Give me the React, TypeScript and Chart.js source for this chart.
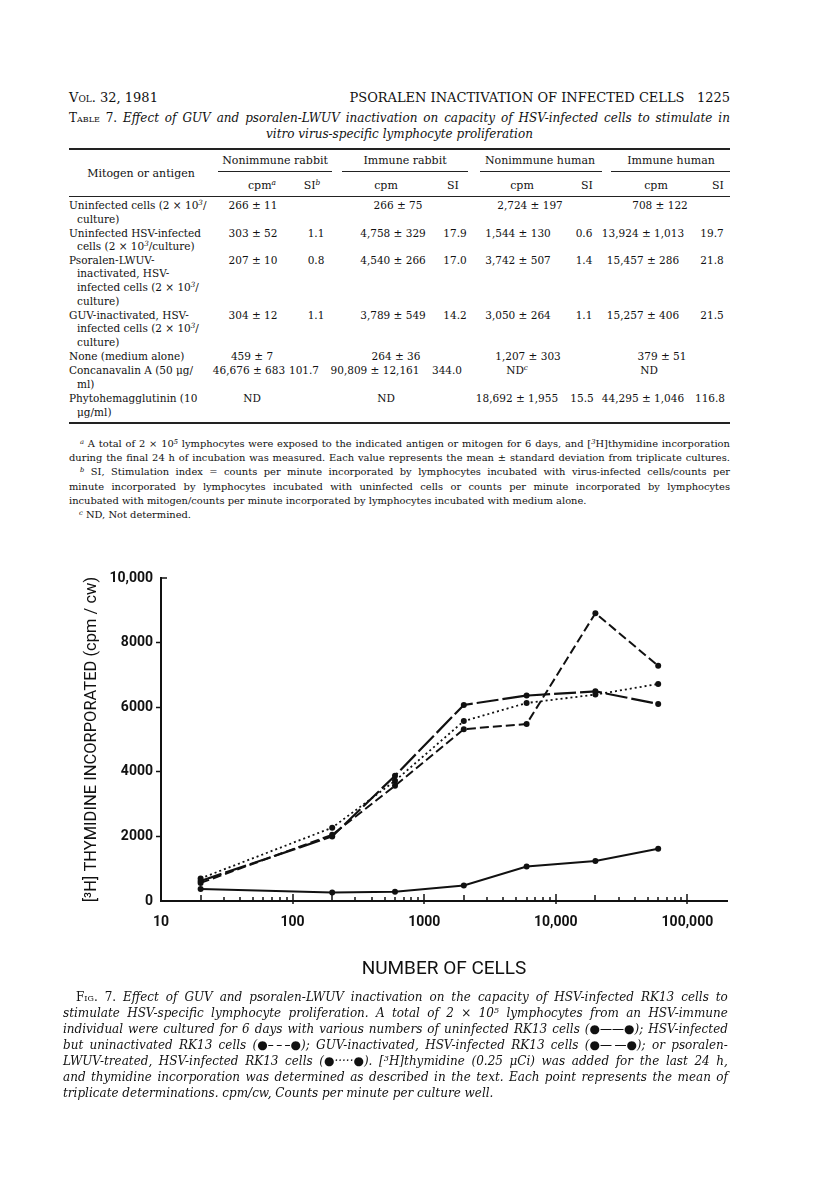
import React, { useEffect, useRef } from 'react';
import { Chart, registerables } from 'chart.js';

Chart.register(...registerables);

// ---------- chart data ----------
const CELL_COUNTS = [20, 200, 600, 2000, 6000, 20000, 60000];
const UNINFECTED = [370, 260, 290, 480, 1070, 1240, 1620];
const HSV_UNINACTIVATED = [560, 2050, 3570, 5320, 5480, 8910, 7280];
const GUV_INACTIVATED = [620, 2000, 3880, 6070, 6360, 6490, 6100];
const PSORALEN_LWUV = [700, 2270, 3720, 5570, 6130, 6390, 6720];

const X_TICKS = [
  10, 20, 30, 40, 50, 60, 70, 80, 90,
  100, 200, 300, 400, 500, 600, 700, 800, 900,
  1000, 2000, 3000, 4000, 5000, 6000, 7000, 8000, 9000,
  10000, 20000, 30000, 40000, 50000, 60000, 70000, 80000, 90000,
  100000,
];
const X_TICK_LABELS: Record<number, string> = {
  10: '10', 100: '100', 1000: '1000', 10000: '10,000', 100000: '100,000',
};
const Y_TICKS = [0, 2000, 4000, 6000, 8000, 10000];
const Y_TICK_LABELS = ['0', '2000', '4000', '6000', '8000', '10,000'];

const X_TITLE = 'NUMBER OF CELLS';
const Y_TITLE = '[\u00b3H] THYMIDINE INCORPORATED (cpm / cw)';

// ---------- page text ----------
const INK = '#111';

function rich(s: string) {
  const parts = s.split(/(\^\{[^}]*\}|\[\[[^\]]*\]\])/);
  return parts.map((p, i) => {
    if (p.startsWith('^{')) {
      return (
        <sup key={i} style={{ fontSize: '0.68em', lineHeight: 0, verticalAlign: '0.5em', fontStyle: 'italic' }}>
          {p.slice(2, -1)}
        </sup>
      );
    }
    if (p.startsWith('[[')) {
      return (
        <span key={i} style={{ fontVariant: 'small-caps', fontStyle: 'normal' }}>
          {p.slice(2, -2)}
        </span>
      );
    }
    return <React.Fragment key={i}>{p}</React.Fragment>;
  });
}

function JLine(props: any) {
  const { y, left, right, text, lh = 14, style = {}, last = false, align } = props;
  const base: any = {
    position: 'absolute',
    top: y - lh / 2,
    lineHeight: lh + 'px',
    whiteSpace: 'nowrap',
    color: INK,
    ...style,
  };
  if (align === 'center') {
    return (
      <div style={{ ...base, left, width: right - left, textAlign: 'center' }}>{rich(text)}</div>
    );
  }
  if (last) {
    return <div style={{ ...base, left }}>{rich(text)}</div>;
  }
  const words = text.split(' ');
  return (
    <div style={{ ...base, left, width: right - left, display: 'flex', justifyContent: 'space-between' }}>
      {words.map((w: string, i: number) => (
        <span key={i}>{rich(w)}</span>
      ))}
    </div>
  );
}

function Cell(props: any) {
  const { x, y, text, style = {} } = props;
  return (
    <div
      style={{
        position: 'absolute',
        left: x,
        top: y - 7,
        lineHeight: '14px',
        transform: 'translateX(-50%)',
        whiteSpace: 'nowrap',
        color: INK,
        ...style,
      }}
    >
      {rich(text)}
    </div>
  );
}

function Rule(props: any) {
  const { y, x1, x2, w = 1 } = props;
  return <div style={{ position: 'absolute', left: x1, top: y - w / 2, width: x2 - x1, height: w, background: '#222' }} />;
}

const TABLE_ROWS = [
  {
    lines: ['Uninfected cells (2 \u00d7 10^{3}/', 'culture)'],
    ys: [205, 219],
    cells: [['266 \u00b1 11', 253], ['266 \u00b1 75', 398], ['2,724 \u00b1 197', 530], ['708 \u00b1 122', 660]],
  },
  {
    lines: ['Uninfected HSV-infected', 'cells (2 \u00d7 10^{3}/culture)'],
    ys: [233, 246],
    cells: [['303 \u00b1 52', 253], ['1.1', 316], ['4,758 \u00b1 329', 393], ['17.9', 455], ['1,544 \u00b1 130', 518], ['0.6', 584], ['13,924 \u00b1 1,013', 643], ['19.7', 712]],
  },
  {
    lines: ['Psoralen-LWUV-', 'inactivated, HSV-', 'infected cells (2 \u00d7 10^{3}/', 'culture)'],
    ys: [260, 273, 287, 301],
    cells: [['207 \u00b1 10', 253], ['0.8', 316], ['4,540 \u00b1 266', 393], ['17.0', 455], ['3,742 \u00b1 507', 518], ['1.4', 584], ['15,457 \u00b1 286', 643], ['21.8', 712]],
  },
  {
    lines: ['GUV-inactivated, HSV-', 'infected cells (2 \u00d7 10^{3}/', 'culture)'],
    ys: [315, 328, 342],
    cells: [['304 \u00b1 12', 253], ['1.1', 316], ['3,789 \u00b1 549', 393], ['14.2', 455], ['3,050 \u00b1 264', 518], ['1.1', 584], ['15,257 \u00b1 406', 643], ['21.5', 712]],
  },
  {
    lines: ['None (medium alone)'],
    ys: [356],
    cells: [['459 \u00b1 7', 252], ['264 \u00b1 36', 396], ['1,207 \u00b1 303', 528], ['379 \u00b1 51', 662]],
  },
  {
    lines: ['Concanavalin A (50 \u03bcg/', 'ml)'],
    ys: [370, 384],
    cells: [['46,676 \u00b1 683', 249], ['101.7', 304], ['90,809 \u00b1 12,161', 375], ['344.0', 447], ['ND^{c}', 517], ['ND', 649]],
  },
  {
    lines: ['Phytohemagglutinin (10', '\u03bcg/ml)'],
    ys: [398, 412],
    cells: [['ND', 252], ['ND', 386], ['18,692 \u00b1 1,955', 517], ['15.5', 582], ['44,295 \u00b1 1,046', 643], ['116.8', 710]],
  },
];

const GROUPS = [
  ['Nonimmune rabbit', 275, 218, 332],
  ['Immune rabbit', 405, 342, 468],
  ['Nonimmune human', 540, 480, 602],
  ['Immune human', 671, 611, 730],
];
const SUBHEADS = [['cpm^{a}', 262], ['SI^{b}', 312], ['cpm', 386], ['SI', 453], ['cpm', 522], ['SI', 587], ['cpm', 656], ['SI', 718]];

const FOOTNOTES = [
  { y: 444, left: 80, text: '^{a} A total of 2 \u00d7 10^{5} lymphocytes were exposed to the indicated antigen or mitogen for 6 days, and [^{3}H]thymidine incorporation' },
  { y: 458, left: 69, text: 'during the final 24 h of incubation was measured. Each value represents the mean \u00b1 standard deviation from triplicate cultures.' },
  { y: 472, left: 80, text: '^{b} SI, Stimulation index = counts per minute incorporated by lymphocytes incubated with virus-infected cells/counts per' },
  { y: 487, left: 69, text: 'minute incorporated by lymphocytes incubated with uninfected cells or counts per minute incorporated by lymphocytes' },
  { y: 501, left: 69, text: 'incubated with mitogen/counts per minute incorporated by lymphocytes incubated with medium alone.', last: true },
  { y: 515, left: 79, text: '^{c} ND, Not determined.', last: true },
];

const CAPTION = [
  { y: 997, left: 76, text: '[[Fig.]] [[7.]] Effect of GUV and psoralen-LWUV inactivation on the capacity of HSV-infected RK13 cells to' },
  { y: 1013, left: 63, text: 'stimulate HSV-specific lymphocyte proliferation. A total of 2 \u00d7 10^{5} lymphocytes from an HSV-immune' },
  { y: 1029, left: 63, text: 'individual were cultured for 6 days with various numbers of uninfected RK13 cells (\u25cf\u2014\u2014\u25cf); HSV-infected' },
  { y: 1045, left: 63, text: 'but uninactivated RK13 cells (\u25cf\u2013\u2009\u2013\u2009\u2013\u25cf); GUV-inactivated, HSV-infected RK13 cells (\u25cf\u2014\u2009\u2014\u25cf); or psoralen-' },
  { y: 1061, left: 63, text: 'LWUV-treated, HSV-infected RK13 cells (\u25cf\u00b7\u00b7\u00b7\u00b7\u00b7\u25cf). [^{3}H]thymidine (0.25 \u03bcCi) was added for the last 24 h,' },
  { y: 1077, left: 63, text: 'and thymidine incorporation was determined as described in the text. Each point represents the mean of' },
  { y: 1093, left: 63, text: 'triplicate determinations. cpm/cw, Counts per minute per culture well.', last: true },
];

// ---------- chart ----------
const pts = (vals: number[]) => CELL_COUNTS.map((c, i) => ({ x: c, y: vals[i] }));

const insideTicks = {
  id: 'insideTicks',
  afterDraw(chart: any) {
    const xs = chart.scales.x;
    const ys = chart.scales.y;
    const ctx = chart.ctx;
    const base = chart.chartArea.bottom;
    ctx.save();
    ctx.strokeStyle = INK;
    ctx.lineWidth = 1.5;
    xs.ticks.forEach((t: any) => {
      const v = t.value;
      if (v <= xs.min) return;
      const exp = Math.floor(Math.log10(v) + 1e-9);
      const lead = Math.round(v / Math.pow(10, exp));
      let up = 4;
      let down = 0;
      if (lead === 1) {
        up = 7;
        down = 3;
      } else if (lead === 2) {
        up = 6;
      }
      const px = Math.round(xs.getPixelForValue(v));
      ctx.beginPath();
      ctx.moveTo(px, base - up);
      ctx.lineTo(px, base + down);
      ctx.stroke();
    });
    const ty = Math.round(ys.getPixelForValue(ys.max));
    ctx.beginPath();
    ctx.moveTo(chart.chartArea.left, ty);
    ctx.lineTo(chart.chartArea.left + 6, ty);
    ctx.stroke();
    ctx.restore();
  },
};

function Figure() {
  const ref = useRef<HTMLCanvasElement | null>(null);
  useEffect(() => {
    if (!ref.current) return;
    const common = { borderColor: INK, backgroundColor: INK, pointRadius: 3, pointBackgroundColor: INK, pointBorderWidth: 0, tension: 0, fill: false };
    const chart = new Chart(ref.current, {
      type: 'line',
      data: {
        datasets: [
          { label: 'Uninfected RK13 cells', data: pts(UNINFECTED), borderWidth: 2, ...common },
          { label: 'HSV-infected, uninactivated', data: pts(HSV_UNINACTIVATED), borderWidth: 2, borderDash: [9, 4], ...common },
          { label: 'GUV-inactivated, HSV-infected', data: pts(GUV_INACTIVATED), borderWidth: 2.2, borderDash: [22, 4], ...common },
          { label: 'Psoralen-LWUV-treated, HSV-infected', data: pts(PSORALEN_LWUV), borderWidth: 1.8, borderDash: [2, 3], ...common },
        ],
      },
      options: {
        animation: false,
        responsive: false,
        maintainAspectRatio: false,
        devicePixelRatio: 1,
        layout: { padding: { left: 0, right: 89, top: 38, bottom: 19 } },
        plugins: { legend: { display: false }, tooltip: { enabled: false }, title: { display: false } },
        scales: {
          x: {
            type: 'logarithmic',
            min: 10,
            max: 200000,
            afterBuildTicks: (s: any) => {
              s.ticks = X_TICKS.map((v) => ({ value: v, major: !!X_TICK_LABELS[v] }));
            },
            afterFit: (s: any) => {
              s.height = 80;
            },
            grid: { display: true, drawOnChartArea: false, drawTicks: false },
            border: { display: true, color: INK, width: 2 },
            ticks: {
              autoSkip: false,
              maxRotation: 0,
              minRotation: 0,
              padding: 13,
              color: INK,
              font: { family: 'Roboto', size: 14, weight: 'bold' },
              callback: (v: any) => X_TICK_LABELS[Number(v)] ?? '',
            },
            title: {
              display: true,
              text: X_TITLE,
              color: INK,
              font: { family: 'Roboto', size: 19, weight: 'normal' },
              padding: { top: 0, bottom: 0 },
            },
          },
          y: {
            type: 'linear',
            min: 0,
            max: 10000,
            afterBuildTicks: (s: any) => {
              s.ticks = Y_TICKS.map((v) => ({ value: v }));
            },
            afterFit: (s: any) => {
              s.width = 161;
            },
            grid: {
              display: true,
              drawOnChartArea: false,
              drawTicks: true,
              tickLength: 5,
              tickWidth: 1.5,
              tickColor: (c: any) => (c.tick && (c.tick.value === 0 || c.tick.value === 10000) ? 'rgba(0,0,0,0)' : INK),
            },
            border: { display: true, color: INK, width: 2 },
            ticks: {
              padding: 3,
              color: INK,
              font: { family: 'Roboto', size: 14, weight: 'bold' },
              callback: (v: any) => {
                const i = Y_TICKS.indexOf(Number(v));
                return i >= 0 ? Y_TICK_LABELS[i] : '';
              },
            },
            title: {
              display: true,
              text: Y_TITLE,
              color: INK,
              font: { family: 'Roboto', size: 16.5, weight: 'normal' },
              padding: { top: 82, bottom: 0 },
            },
          },
        },
      },
      plugins: [insideTicks],
    } as any);
    return () => chart.destroy();
  }, []);
  return (
    <canvas
      ref={ref}
      width={816}
      height={460}
      style={{ position: 'absolute', left: 0, top: 540, width: 816, height: 460 }}
    />
  );
}

export default function App() {
  const serif = '"DejaVu Serif", serif';
  const tf = 10.5;
  return (
    <div
      style={{
        position: 'absolute',
        left: 0,
        top: 0,
        width: 816,
        height: 1198,
        background: '#fff',
        fontFamily: serif,
        color: INK,
        overflow: 'hidden',
      }}
    >
      {/* running head */}
      <JLine y={98} left={69} text="[[Vol.]] 32, 1981" last style={{ fontSize: 13 }} />
      <div style={{ position: 'absolute', top: 91, right: 86, lineHeight: '14px', fontSize: 13, whiteSpace: 'nowrap', color: INK }}>
        PSORALEN INACTIVATION OF INFECTED CELLS&nbsp;&nbsp;&nbsp;1225
      </div>

      {/* table title */}
      <JLine y={118} left={69} right={730} lh={15}
        text="[[Table]] [[7.]] Effect of GUV and psoralen-LWUV inactivation on capacity of HSV-infected cells to stimulate in"
        style={{ fontSize: 12, fontStyle: 'italic' }} />
      <JLine y={134} left={69} right={730} lh={15} align="center"
        text="vitro virus-specific lymphocyte proliferation" style={{ fontSize: 12, fontStyle: 'italic' }} />

      {/* table rules */}
      <Rule y={149} x1={69} x2={730} w={2} />
      {GROUPS.map((g: any, i) => (
        <React.Fragment key={i}>
          <Cell x={g[1]} y={161} text={g[0]} style={{ fontSize: 11 }} />
          <Rule y={171} x1={g[2]} x2={g[3]} w={1} />
        </React.Fragment>
      ))}
      <Cell x={141} y={174} text="Mitogen or antigen" style={{ fontSize: 11 }} />
      {SUBHEADS.map((s: any, i) => (
        <Cell key={i} x={s[1]} y={186} text={s[0]} style={{ fontSize: 11 }} />
      ))}
      <Rule y={196} x1={69} x2={730} w={1} />

      {TABLE_ROWS.map((r: any, ri) => (
        <React.Fragment key={ri}>
          {r.lines.map((l: string, li: number) => (
            <JLine key={'l' + li} y={r.ys[li]} left={li === 0 ? 69 : 77} text={l} last lh={14} style={{ fontSize: tf }} />
          ))}
          {r.cells.map((c: any, ci: number) => (
            <Cell key={'c' + ci} x={c[1]} y={r.ys[0]} text={c[0]} style={{ fontSize: tf }} />
          ))}
        </React.Fragment>
      ))}
      <Rule y={423} x1={69} x2={730} w={1.5} />

      {/* footnotes */}
      {FOOTNOTES.map((f, i) => (
        <JLine key={i} y={f.y} left={f.left} right={730} text={f.text} last={f.last} lh={14} style={{ fontSize: 9.9 }} />
      ))}

      {/* figure */}
      <Figure />

      {/* caption */}
      {CAPTION.map((c, i) => (
        <JLine key={i} y={c.y} left={c.left} right={728} text={c.text} last={c.last} lh={16} style={{ fontSize: 12, fontStyle: 'italic' }} />
      ))}
    </div>
  );
}
